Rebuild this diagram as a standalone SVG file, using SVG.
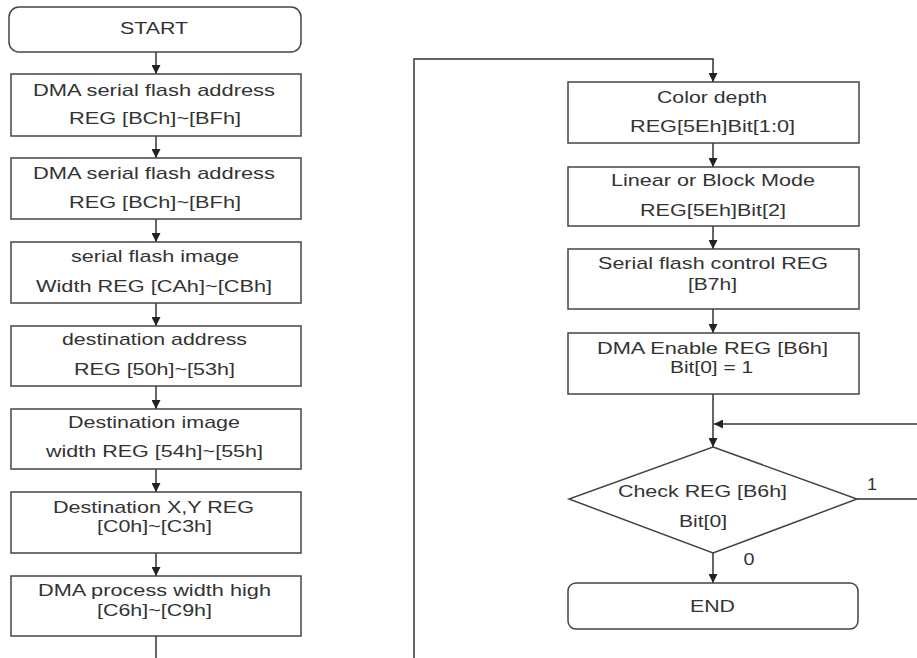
<svg xmlns="http://www.w3.org/2000/svg" width="917" height="658" viewBox="0 0 917 658">
<style>
.box{fill:#fff;stroke:#444;stroke-width:1.5}
.ln{fill:none;stroke:#333;stroke-width:1.5}
text{font-family:"Liberation Sans",Arial,sans-serif;font-size:17px;fill:#333;text-anchor:middle}
.lbl{font-size:16px}
</style>
<defs>
<marker id="ah" viewBox="0 0 10 10" refX="10" refY="5" markerUnits="userSpaceOnUse" markerWidth="9" markerHeight="9" orient="auto">
<path d="M0,0 L10,5 L0,10 z" fill="#222"/>
</marker>
</defs>
<rect width="917" height="658" fill="#fff"/>
<g id="connectors">
<line class="ln" x1="156" y1="52" x2="156" y2="74" marker-end="url(#ah)"/>
<line class="ln" x1="156" y1="136" x2="156" y2="158" marker-end="url(#ah)"/>
<line class="ln" x1="156" y1="219" x2="156" y2="242" marker-end="url(#ah)"/>
<line class="ln" x1="156" y1="303" x2="156" y2="326" marker-end="url(#ah)"/>
<line class="ln" x1="156" y1="386" x2="156" y2="409" marker-end="url(#ah)"/>
<line class="ln" x1="156" y1="469" x2="156" y2="492" marker-end="url(#ah)"/>
<line class="ln" x1="156" y1="553" x2="156" y2="576" marker-end="url(#ah)"/>
<line class="ln" x1="156" y1="636" x2="156" y2="658"/>
<path class="ln" d="M414,658 L414,59 L713,59 L713,82" marker-end="url(#ah)"/>
<line class="ln" x1="713" y1="143" x2="713" y2="167" marker-end="url(#ah)"/>
<line class="ln" x1="713" y1="226" x2="713" y2="249" marker-end="url(#ah)"/>
<line class="ln" x1="713" y1="309" x2="713" y2="333" marker-end="url(#ah)"/>
<line class="ln" x1="713" y1="394" x2="713" y2="447" marker-end="url(#ah)"/>
<line class="ln" x1="917" y1="424" x2="714" y2="424" marker-end="url(#ah)"/>
<line class="ln" x1="857" y1="499" x2="917" y2="499"/>
<line class="ln" x1="713" y1="553" x2="713" y2="583" marker-end="url(#ah)"/>
<text class="lbl" x="872" y="490" textLength="10" lengthAdjust="spacingAndGlyphs">1</text>
<text class="lbl" x="749" y="565" textLength="11" lengthAdjust="spacingAndGlyphs">0</text>
</g>
<g id="start">
<rect class="box" x="9" y="7" width="292" height="45" rx="10"/>
<text x="154" y="34" textLength="68" lengthAdjust="spacingAndGlyphs">START</text>
</g>
<g id="n1">
<rect class="box" x="11" y="74" width="290" height="62"/>
<text x="154" y="96" textLength="242" lengthAdjust="spacingAndGlyphs">DMA serial flash address</text>
<text x="155" y="124" textLength="172" lengthAdjust="spacingAndGlyphs">REG [BCh]~[BFh]</text>
</g>
<g id="n2">
<rect class="box" x="11" y="158" width="290" height="61"/>
<text x="154" y="179" textLength="242" lengthAdjust="spacingAndGlyphs">DMA serial flash address</text>
<text x="155" y="208" textLength="172" lengthAdjust="spacingAndGlyphs">REG [BCh]~[BFh]</text>
</g>
<g id="n3">
<rect class="box" x="11" y="242" width="290" height="61"/>
<text x="155" y="262" textLength="168" lengthAdjust="spacingAndGlyphs">serial flash image</text>
<text x="154" y="292" textLength="236" lengthAdjust="spacingAndGlyphs">Width REG [CAh]~[CBh]</text>
</g>
<g id="n4">
<rect class="box" x="11" y="326" width="290" height="60"/>
<text x="154.5" y="345" textLength="185" lengthAdjust="spacingAndGlyphs">destination address</text>
<text x="154.5" y="375" textLength="161" lengthAdjust="spacingAndGlyphs">REG [50h]~[53h]</text>
</g>
<g id="n5">
<rect class="box" x="11" y="409" width="290" height="60"/>
<text x="154" y="428" textLength="172" lengthAdjust="spacingAndGlyphs">Destination image</text>
<text x="154.5" y="457" textLength="217" lengthAdjust="spacingAndGlyphs">width REG [54h]~[55h]</text>
</g>
<g id="n6">
<rect class="box" x="11" y="492" width="290" height="61"/>
<text x="153.5" y="513" textLength="201" lengthAdjust="spacingAndGlyphs">Destination X,Y REG</text>
<text x="154.5" y="532" textLength="115" lengthAdjust="spacingAndGlyphs">[C0h]~[C3h]</text>
</g>
<g id="n7">
<rect class="box" x="11" y="576" width="290" height="60"/>
<text x="154.5" y="596" textLength="233" lengthAdjust="spacingAndGlyphs">DMA process width high</text>
<text x="154.5" y="616" textLength="115" lengthAdjust="spacingAndGlyphs">[C6h]~[C9h]</text>
</g>
<g id="r1">
<rect class="box" x="568" y="82" width="291" height="61"/>
<text x="712" y="103" textLength="110" lengthAdjust="spacingAndGlyphs">Color depth</text>
<text x="712.5" y="132" textLength="165" lengthAdjust="spacingAndGlyphs">REG[5Eh]Bit[1:0]</text>
</g>
<g id="r2">
<rect class="box" x="568" y="167" width="291" height="59"/>
<text x="713" y="186" textLength="204" lengthAdjust="spacingAndGlyphs">Linear or Block Mode</text>
<text x="713" y="216" textLength="146" lengthAdjust="spacingAndGlyphs">REG[5Eh]Bit[2]</text>
</g>
<g id="r3">
<rect class="box" x="568" y="249" width="291" height="60"/>
<text x="713" y="269" textLength="230" lengthAdjust="spacingAndGlyphs">Serial flash control REG</text>
<text x="712.5" y="290" textLength="49" lengthAdjust="spacingAndGlyphs">[B7h]</text>
</g>
<g id="r4">
<rect class="box" x="568" y="333" width="291" height="61"/>
<text x="712.5" y="354" textLength="231" lengthAdjust="spacingAndGlyphs">DMA Enable REG [B6h]</text>
<text x="711.5" y="373" textLength="83" lengthAdjust="spacingAndGlyphs">Bit[0] = 1</text>
</g>
<g id="check">
<polygon class="box" points="713,447 857,499 713,553 569,499"/>
<text x="702.5" y="497" textLength="169" lengthAdjust="spacingAndGlyphs">Check REG [B6h]</text>
<text x="703" y="527" textLength="48" lengthAdjust="spacingAndGlyphs">Bit[0]</text>
</g>
<g id="end">
<rect class="box" x="568" y="583" width="290" height="46" rx="8"/>
<text x="712.5" y="612" textLength="45" lengthAdjust="spacingAndGlyphs">END</text>
</g>
</svg>
